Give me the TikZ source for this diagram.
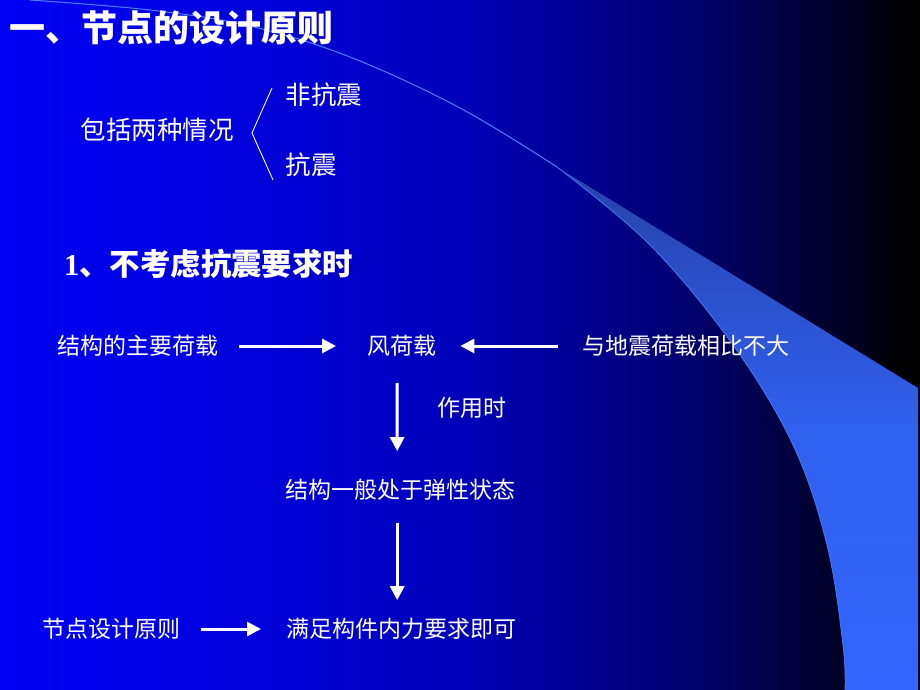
\documentclass[tikz,border=0pt]{standalone}
\usepackage{fontspec}
\setmainfont{Liberation Serif}
\newfontfamily\cjk{Noto Sans CJK SC}
\usetikzlibrary{arrows.meta,calc}
\definecolor{bgA}{RGB}{0,0,245}
\definecolor{bgB}{RGB}{0,0,222}
\definecolor{bgC}{RGB}{0,0,185}
\definecolor{bgD}{RGB}{0,0,110}
\definecolor{bgE}{RGB}{0,0,28}
\definecolor{wTop}{RGB}{38,66,170}
\definecolor{wMid}{RGB}{48,96,238}
\definecolor{wBot}{RGB}{51,102,255}
\definecolor{swline}{RGB}{80,130,255}
\pgfdeclarehorizontalshading{bgshade}{100bp}{color(0bp)=(bgA); color(25bp)=(bgA); color(37.5bp)=(bgB); color(50bp)=(bgC); color(62.5bp)=(bgD); color(71.7bp)=(bgE); color(74bp)=(black); color(100bp)=(black)}
\pgfdeclareverticalshading{wedgeshade}{100bp}{color(0bp)=(wBot); color(25bp)=(wBot); color(50bp)=(wMid); color(75bp)=(wTop); color(100bp)=(wTop)}
\tikzset{
  txt/.style={anchor=west, inner sep=0pt, text=white, font=\cjk\fontsize{23}{23}\selectfont},
  big/.style={anchor=west, inner sep=0pt, text=white, font=\cjk\fontsize{25.5}{25.5}\selectfont},
  ttl/.style={anchor=west, inner sep=0pt, text=white, font=\cjk\bfseries\fontsize{36}{36}\selectfont},
  sub/.style={anchor=west, inner sep=0pt, text=white, font=\bfseries\fontsize{30.4}{30.4}\selectfont},
  arr/.style={draw=white, line width=3pt, -{Triangle[length=14pt,width=14pt]}},
  brace/.style={draw=white, line width=0.9pt}
}
\begin{document}
\begin{tikzpicture}[x=1pt,y=-1pt]
\useasboundingbox (0,0) rectangle (920,690);
% background
\shade[shading=bgshade] (0,0) rectangle (920,690);
% swoosh wedge
\shade[shading=wedgeshade] plot[smooth,tension=0.6] coordinates {(557,167) (650,245) (733,345) (793,445) (827,545) (843,645) (845,690)} -- (918,690) -- (918,388) -- cycle;
\draw[swline, line width=1pt] plot[smooth,tension=0.6] coordinates {(30,0) (150,10) (250,26) (350,57) (460,108) (557,167)};
\draw[swline!70!wMid, line width=0.8pt] plot[smooth,tension=0.6] coordinates {(557,167) (650,245) (733,345) (793,445) (827,545) (843,645) (845,690)};
% title
\node[ttl] (title) at (9,27.5) {一、节点的设计原则};
% two cases
\node[big] (incl) at (80.5,130) {包括两种情况};
\node[big] (nonseis) at (285.5,95) {非抗震};
\node[big] (seis) at (285.5,165) {抗震};
\draw[brace] (272,88) -- (252,133) -- (273,180);
% subtitle
\node[sub] (sub1) at (64,264) {1{\cjk 、不考虑抗震要求时}};
% flow
\node[txt] (mainload) at (57,346) {结构的主要荷载};
\node[txt] (wind) at (367,346) {风荷载};
\node[txt] (compare) at (582,346) {与地震荷载相比不大};
\node[txt] (acting) at (437,408) {作用时};
\node[txt] (elastic) at (285,490) {结构一般处于弹性状态};
\node[txt] (principle) at (42,629) {节点设计原则};
\node[txt] (satisfy) at (286,629) {满足构件内力要求即可};
\draw[arr, shorten <=21pt, shorten >=31pt] (mainload.east) -- (wind.west);
\draw[arr, shorten <=24pt, shorten >=24pt] (compare.west) -- (wind.east);
\draw[arr] ($(wind.west)+(30,37)$) -- ($(elastic.north)+(-3,-28)$);
\draw[arr] ($(elastic.south)+(-3,22)$) -- ($(satisfy.north)+(-4,-18)$);
\draw[arr, shorten <=21pt, shorten >=25pt] (principle.east) -- (satisfy.west);
\end{tikzpicture}
\end{document}
